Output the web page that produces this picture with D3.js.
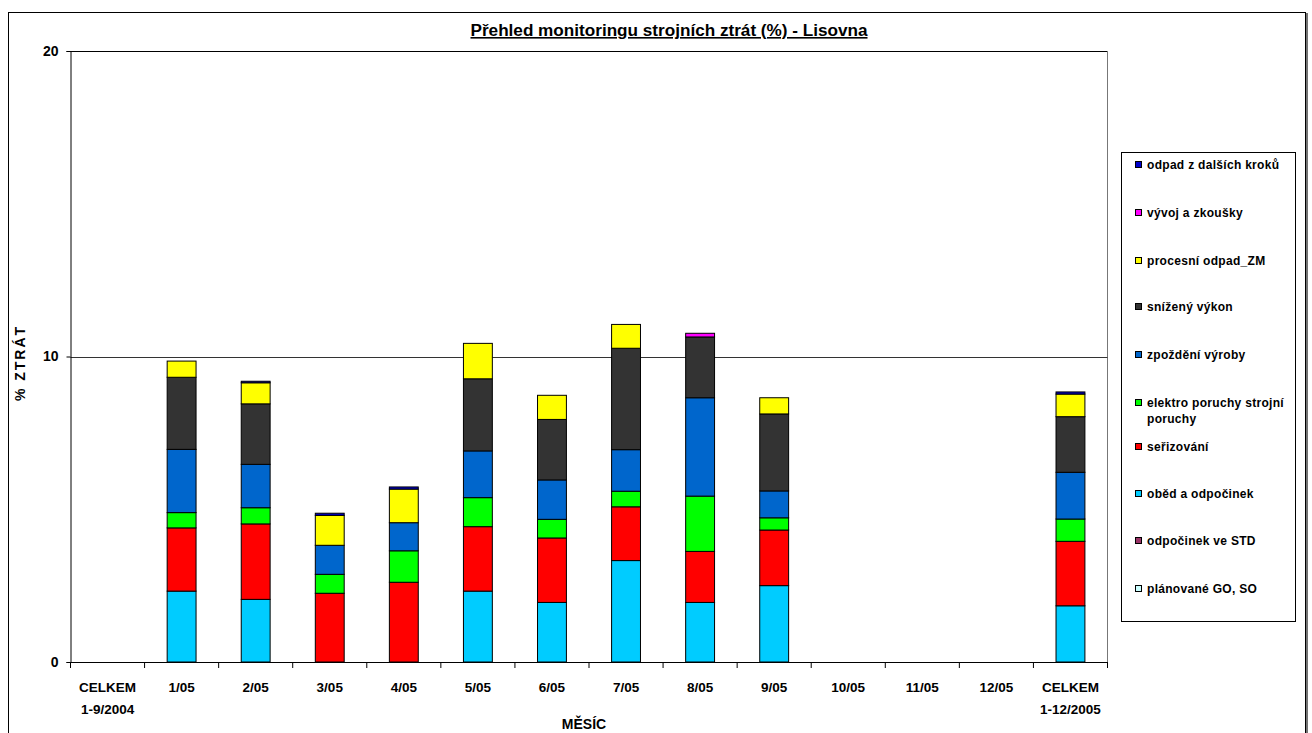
<!DOCTYPE html>
<html><head><meta charset="utf-8">
<script src="https://cdn.jsdelivr.net/npm/d3@7"></script>
<style>body{margin:0;background:#fff}svg{display:block}text{font-family:"Liberation Sans",Arial,sans-serif;font-weight:bold}</style>
</head><body><svg id="c" width="1312" height="733"></svg>
<script>
const categories = ["CELKEM\n1-9/2004","1/05","2/05","3/05","4/05","5/05","6/05","7/05","8/05","9/05","10/05","11/05","12/05","CELKEM\n1-12/2005"];
const seriesNames = ["plánované GO, SO","odpočinek ve STD","oběd a odpočinek","seřizování","elektro poruchy strojní poruchy","zpoždění výroby","snížený výkon","procesní odpad_ZM","vývoj a zkoušky","odpad z dalších kroků"];
const seriesColors = ["#CCFFFF","#993366","#00CCFF","#FF0000","#00FF00","#0066CC","#333333","#FFFF00","#FF00FF","#0000CC"];
const planovane   = [0,0,0,0,0,0,0,0,0,0,0,0,0,0];
const odpocinekSTD= [0,0,0,0,0,0,0,0,0,0,0,0,0,0];
const obed        = [0,2.32,2.05,0,0,2.32,1.95,3.32,1.95,2.50,0,0,0,1.84];
const serizovani  = [0,2.07,2.47,2.25,2.61,2.11,2.11,1.76,1.67,1.82,0,0,0,2.11];
const elektro     = [0,0.50,0.53,0.62,1.03,0.95,0.61,0.51,1.81,0.40,0,0,0,0.73];
const zpozdeni    = [0,2.07,1.42,0.95,0.92,1.53,1.29,1.36,3.22,0.88,0,0,0,1.53];
const snizeny     = [0,2.36,1.98,0,0,2.36,1.98,3.32,1.99,2.52,0,0,0,1.82];
const procesni    = [0,0.53,0.69,0.98,1.10,1.16,0.79,0.78,0,0.53,0,0,0,0.74];
const vyvoj       = [0,0,0,0,0,0,0,0,0.12,0,0,0,0,0];
const odpadDalsi  = [0,0,0.05,0.07,0.07,0,0,0,0,0,0,0,0,0.07];
const yTicks = [0,10,20];
const title = "Přehled monitoringu strojních ztrát (%) - Lisovna";

const seriesValues = [planovane,odpocinekSTD,obed,serizovani,elektro,zpozdeni,snizeny,procesni,vyvoj,odpadDalsi];
const rows = categories.map((c,i)=>{const r={cat:c}; seriesNames.forEach((s,j)=>r[s]=seriesValues[j][i]); return r;});
const stack = d3.stack().keys(seriesNames)(rows);

const svg = d3.select("#c");
const L=70.5, R=1107.5, T=51, B=662;
const x = d3.scaleBand().domain(categories).range([L,R]).paddingInner(0.61).paddingOuter(0.305);
const y = d3.scaleLinear().domain([0,20]).range([B,T]);

// outer chart border
svg.append("rect").attr("x",8.5).attr("y",12.5).attr("width",1297).attr("height",740).attr("fill","none").attr("stroke","#000").attr("stroke-width",1);
svg.append("line").attr("x1",1307).attr("x2",1307).attr("y1",13).attr("y2",733).attr("stroke","#444").attr("stroke-width",1.5);

// plot frame (top + right)
svg.append("line").attr("x1",L).attr("x2",R).attr("y1",T+0.5).attr("y2",T+0.5).attr("stroke","#000");
svg.append("line").attr("x1",R).attr("x2",R).attr("y1",T).attr("y2",B).attr("stroke","#777");
// gridline at 10
svg.append("line").attr("x1",L).attr("x2",R).attr("y1",Math.round(y(10))+0.5).attr("y2",Math.round(y(10))+0.5).attr("stroke","#333");

// bars
svg.append("g").selectAll("g").data(stack).join("g").attr("fill",(d,i)=>seriesColors[i])
  .selectAll("rect").data(d=>d.filter(p=>p[1]-p[0]>0).map(p=>({p,cat:p.data.cat}))).join("rect")
  .attr("x",d=>x(d.cat)).attr("width",x.bandwidth())
  .attr("y",d=>y(d.p[1])).attr("height",d=>y(d.p[0])-y(d.p[1]))
  .attr("stroke","#000").attr("stroke-width",1);

// y axis
const ya = svg.append("g").attr("transform",`translate(${L},0)`)
  .call(d3.axisLeft(y).tickValues(yTicks).tickSize(4).tickPadding(8));
ya.attr("font-size",null).attr("font-family",null);
ya.select(".domain").attr("stroke","#000");
ya.selectAll("text").style("font-size","14px").style("font-weight","bold").attr("fill","#000");

// x axis
const xa = svg.append("g").attr("transform",`translate(0,${B})`);
xa.append("line").attr("x1",L).attr("x2",R).attr("y1",0.5).attr("y2",0.5).attr("stroke","#000");
const bounds = categories.map(c=>x(c)-x.step()*x.paddingInner()/2).concat([R]);
xa.selectAll("line.t").data(bounds).join("line").attr("class","t")
  .attr("x1",d=>d).attr("x2",d=>d).attr("y1",0).attr("y2",6).attr("stroke","#000");
const lbl = xa.selectAll("text.l").data(categories).join("text").attr("class","l")
  .attr("x",d=>x(d)+x.bandwidth()/2).attr("y",30).attr("text-anchor","middle")
  .style("font-size","13.5px").attr("fill","#000");
lbl.each(function(d){const t=d3.select(this); d.split("\n").forEach((s,i)=>t.append("tspan").attr("x",x(d)+x.bandwidth()/2).attr("dy",i?22:0).text(s));});

// axis titles
svg.append("text").attr("x",584).attr("y",729).attr("text-anchor","middle").style("font-size","14px").text("MĚSÍC");
svg.append("text").attr("transform","translate(25,363) rotate(-90)").attr("text-anchor","middle").style("font-size","14px").attr("letter-spacing",2).text("% ZTRÁT");

// title
svg.append("text").attr("x",669).attr("y",36).attr("text-anchor","middle").style("font-size","16px")
  .attr("text-decoration","underline").attr("textLength",397).attr("lengthAdjust","spacingAndGlyphs").text(title);

// legend
const lg = svg.append("g");
lg.append("rect").attr("x",1121.5).attr("y",152.5).attr("width",174).attr("height",469).attr("fill","#fff").attr("stroke","#000");
const legY = [165,213,261,307,355,403,447,494,541,589];
const order = seriesNames.map((s,i)=>i).reverse();
order.forEach((si,k)=>{
  const yy = legY[k];
  lg.append("rect").attr("x",1135.5).attr("y",yy-3.5).attr("width",6).attr("height",6).attr("fill",seriesColors[si]).attr("stroke","#000");
  const parts = si===4 ? ["elektro poruchy strojní","poruchy"] : [seriesNames[si]];
  const t = lg.append("text").attr("x",1147).attr("y",yy+4).style("font-size","12px").attr("letter-spacing",0.3).attr("fill","#000");
  parts.forEach((p,i)=>t.append("tspan").attr("x",1147).attr("dy",i?16:0).text(p));
});
</script></body></html>
